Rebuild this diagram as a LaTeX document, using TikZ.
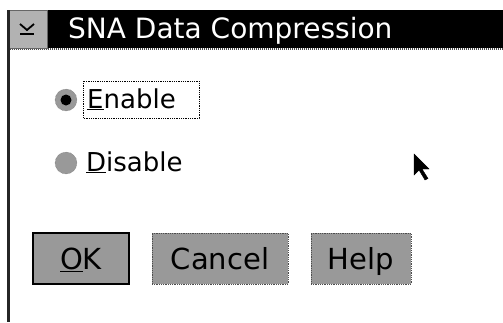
\documentclass[tikz,border=0pt]{standalone}
\usepackage{fontspec}
\setmainfont{DejaVu Sans}
\usetikzlibrary{positioning}
\tikzset{
    frame/.style = {draw=black!85, line width=3pt, dash pattern=on 1.5pt off 0.5pt},
    titlebar/.style = {fill=black, draw=none},
    sysmenu/.style = {rectangle, fill=black!30, draw=black!60, minimum width=40pt, minimum height=38pt, inner sep=0pt},
    titletext/.style = {text=white, font=\fontsize{28}{30}\selectfont, inner sep=0pt},
    optiontext/.style = {text=black, font=\fontsize{26}{28}\selectfont, inner sep=0pt},
    radio/.style = {circle, fill=black!40, draw=black!60, densely dotted, minimum size=22pt, inner sep=0pt},
    focusbox/.style = {draw=black, densely dotted, thick},
    pushbutton/.style = {rectangle, fill=black!40, draw=black!70, densely dotted, thick, minimum height=51pt, inner sep=0pt, text height=21pt, text depth=0pt, font=\fontsize{29}{31}\selectfont},
    defbutton/.style = {pushbutton, draw=black, solid, line width=1.5pt},
    pointerarrow/.style = {fill=black, draw=black, line join=miter}
}

\begin{document}
\begin{tikzpicture}[x=1pt,y=-1pt]
\useasboundingbox (0,0) rectangle (503,322);
%
\fill[titlebar] (47,10) rectangle (503,48);
\draw[black!70, line width=2pt, dash pattern=on 1pt off 1pt] (8,49) -- (503,49);
\node[sysmenu] at (27,29) (menu) {};
\draw[black, line width=1.8pt] ([shift={(-7,-5)}]menu.center) -- ([shift={(0,1)}]menu.center) -- ([shift={(7,-5)}]menu.center);
\draw[black, line width=1.8pt] ([shift={(-7,5)}]menu.center) -- ([shift={(7,5)}]menu.center);
\node[titletext, anchor=base west] at (68,38) (title) {SNA Data Compression};
\draw[frame] (8.5,10) -- (8.5,322);
%
\node[radio] at (66,100) (renable) {};
\fill[black] (renable.center) circle (5.5pt);
\node[optiontext, anchor=base west] at (87,108) (enable) {\underline{E}nable};
\draw[focusbox] (83,81) rectangle (199,118);
\node[radio] at (66,163) (rdisable) {};
\node[optiontext, anchor=base west] at (86,171) (disable) {\underline{D}isable};
%
\node[defbutton, minimum width=96pt] at (81,258.5) (ok) {\underline{O}K};
\node[pushbutton, minimum width=136pt] at (220,258.5) (cancel) {Cancel};
\node[pushbutton, minimum width=100pt] at (361,258.5) (help) {Help};
%
\coordinate (tip) at (414,154);
\fill[pointerarrow] (tip) -- ++(0,21) -- ++(5,-5) -- ++(6,10) -- ++(3,-1.5) -- ++(-6,-9.5) -- ++(7,0) -- cycle;

\end{tikzpicture}
\end{document}
